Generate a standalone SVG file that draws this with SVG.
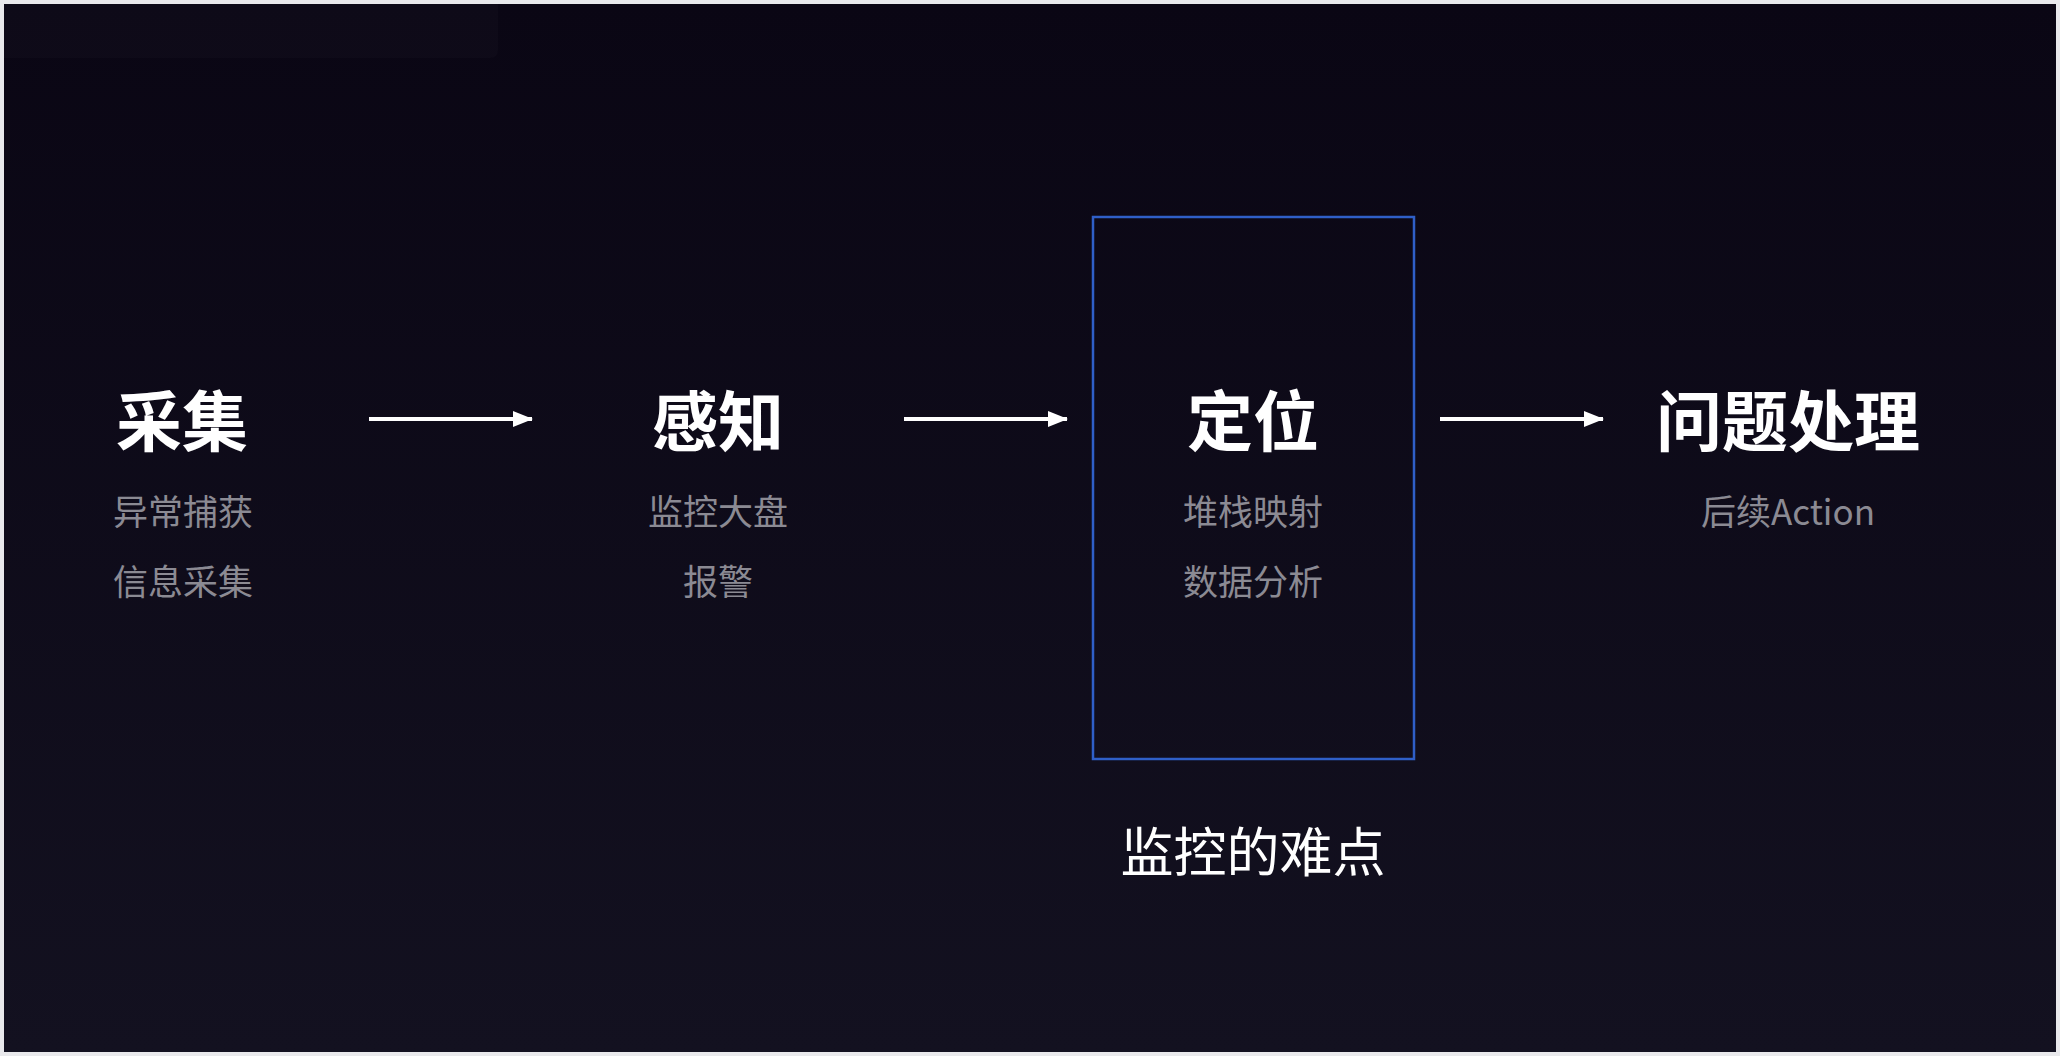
<svg xmlns="http://www.w3.org/2000/svg" width="2060" height="1056" viewBox="0 0 2060 1056">
  <defs>
    <linearGradient id="bg" x1="0" y1="0" x2="0" y2="1">
      <stop offset="0" stop-color="#0a0614"/>
      <stop offset="1" stop-color="#131120"/>
    </linearGradient>
    <marker id="arrow" viewBox="0 0 20 16" refX="19" refY="8" markerWidth="20" markerHeight="16" markerUnits="userSpaceOnUse" orient="auto">
      <path d="M0,0 L20,8 L0,16 Z" fill="#ffffff"/>
    </marker>
    <style>
      .title { font-family: "Noto Sans CJK SC", "Noto Sans", sans-serif; font-size: 66px; font-weight: 700; fill: #ffffff; text-anchor: middle; }
      .sub { font-family: "Noto Sans CJK SC", "Noto Sans", sans-serif; font-size: 35px; font-weight: 400; fill: #8b8a93; text-anchor: middle; }
      .caption { font-family: "Noto Sans CJK SC", "Noto Sans", sans-serif; font-size: 53px; font-weight: 400; fill: #ffffff; text-anchor: middle; }
      .conn { stroke: #ffffff; stroke-width: 4; fill: none; marker-end: url(#arrow); }
    </style>
  </defs>

  <rect x="0" y="0" width="2060" height="1056" fill="#e9e9ec"/>
  <rect x="4" y="4" width="2052" height="1048" fill="url(#bg)"/>
  <path d="M4,4 H498 V50 Q498,58 490,58 H4 Z" fill="#ffffff" fill-opacity="0.018"/>

  <g id="node-collect">
    <text class="title" x="182" y="446">采集</text>
    <text class="sub" x="183" y="525">异常捕获</text>
    <text class="sub" x="183" y="595">信息采集</text>
  </g>

  <g id="node-perceive">
    <text class="title" x="718" y="446">感知</text>
    <text class="sub" x="718" y="525">监控大盘</text>
    <text class="sub" x="718" y="595">报警</text>
  </g>

  <g id="node-locate">
    <rect x="1093" y="217" width="321" height="542" fill="none" stroke="#2f5fc8" stroke-width="2.5"/>
    <text class="title" x="1253" y="446">定位</text>
    <text class="sub" x="1253" y="525">堆栈映射</text>
    <text class="sub" x="1253" y="595">数据分析</text>
  </g>

  <g id="node-handle">
    <text class="title" x="1788" y="446">问题处理</text>
    <text class="sub" x="1788" y="525">后续Action</text>
  </g>

  <g id="caption">
    <text class="caption" x="1253" y="872">监控的难点</text>
  </g>

  <g id="connectors">
    <line class="conn" x1="369" y1="419" x2="532" y2="419"/>
    <line class="conn" x1="904" y1="419" x2="1067" y2="419"/>
    <line class="conn" x1="1440" y1="419" x2="1603" y2="419"/>
  </g>
</svg>
